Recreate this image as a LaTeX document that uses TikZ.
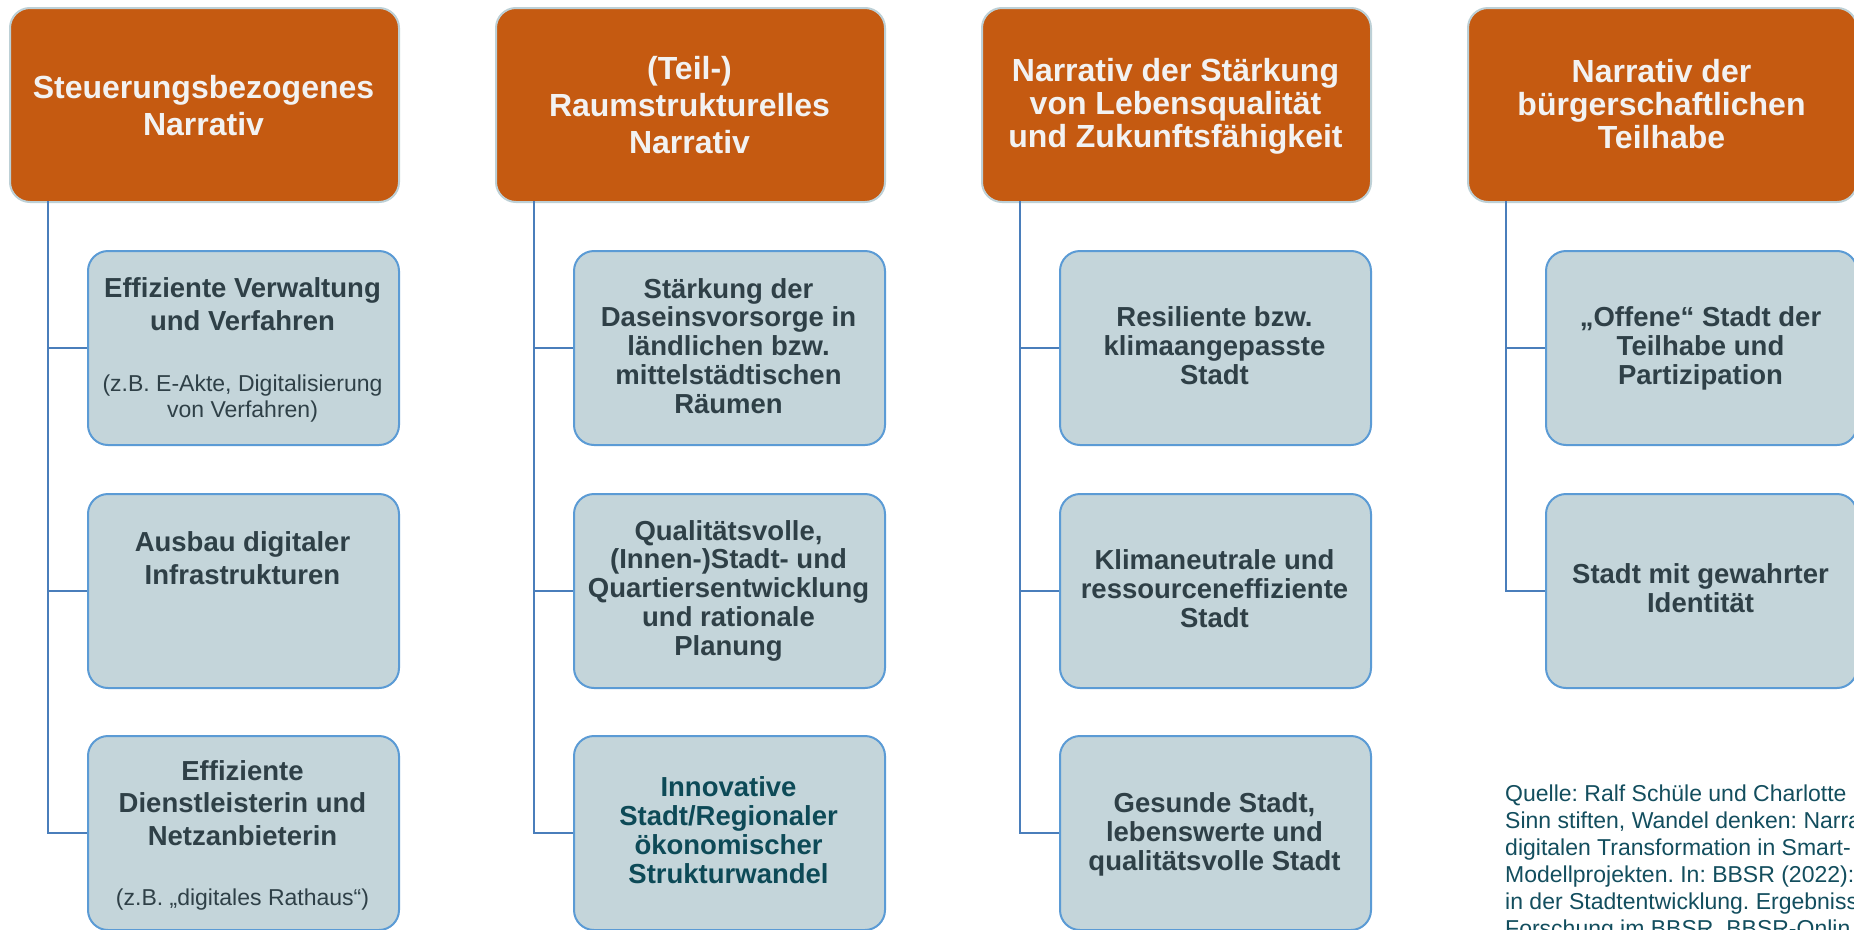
\documentclass[tikz,border=0pt]{standalone}
\usepackage{fontspec}
\setmainfont{Liberation Sans}
\frenchspacing
\definecolor{hdrfill}{HTML}{C55A11}
\definecolor{hdrline}{HTML}{BDD0D6}
\definecolor{boxfill}{HTML}{C4D5DA}
\definecolor{boxline}{HTML}{5B9BD5}
\definecolor{connline}{HTML}{4A7EBB}
\definecolor{boxtext}{HTML}{2F4047}
\definecolor{innovtext}{HTML}{0D4A57}
\definecolor{srctext}{HTML}{134E5E}
\definecolor{hdrtext}{HTML}{F2F2F2}
\tikzset{
  hdrbox/.style={draw=hdrline, line width=2pt, fill=hdrfill, rounded corners=20pt,
    minimum width=389pt, minimum height=194pt, anchor=north west, inner sep=0pt},
  childbox/.style={draw=boxline, line width=2pt, fill=boxfill, rounded corners=20pt,
    minimum width=311pt, minimum height=194pt, anchor=north west, inner sep=0pt},
  conn/.style={draw=connline, line width=2pt},
  hdrlbl/.style={anchor=base, align=center, inner sep=0pt, text=hdrtext},
  hdrA/.style={hdrlbl, font={\fontsize{32}{37}\selectfont\bfseries}},
  hdrB/.style={hdrlbl, font={\fontsize{32}{33}\selectfont\bfseries}},
  boldlbl/.style={anchor=base, align=center, inner sep=0pt, text=boxtext,
    font={\fontsize{27.5}{28.7}\selectfont\bfseries}},
  boldwide/.style={boldlbl, font={\fontsize{27.5}{32.5}\selectfont\bfseries}},
  reglbl/.style={anchor=base, align=center, inner sep=0pt, text=boxtext,
    font={\fontsize{23}{26}\selectfont}},
  srclbl/.style={anchor=base west, align=left, inner sep=0pt, text=srctext,
    font={\fontsize{23}{27}\selectfont}}
}
\begin{document}
\begin{tikzpicture}[x=1pt, y=-1pt]
\useasboundingbox (0,0) rectangle (1854,929);
\clip (0,0) rectangle (1854,929);
\fill[white] (0,0) rectangle (1854,929);

% ---------- headers ----------
\node[hdrbox] (h1) at (9,7) {};
\node[hdrbox] (h2) at (495,7) {};
\node[hdrbox] (h3) at (981,7) {};
\node[hdrbox] (h4) at (1467,7) {};
% (anchor = baseline of the last line)
\node[hdrA] (ht1) at (203.5,135) {Steuerungsbezogenes\\Narrativ};
\node[hdrA] (ht2) at (689.5,153) {(Teil-)\\Raumstrukturelles\\Narrativ};
\node[hdrB] (ht3) at (1175.5,147.5) {Narrativ der Stärkung\\von Lebensqualität\\und Zukunftsfähigkeit};
\node[hdrB] (ht4) at (1661.5,148) {Narrativ der\\bürgerschaftlichen\\Teilhabe};

% ---------- child boxes ----------
\node[childbox] (b11) at (87,250) {};
\node[childbox] (b12) at (87,493) {};
\node[childbox] (b13) at (87,735) {};
\node[childbox] (b21) at (573,250) {};
\node[childbox] (b22) at (573,493) {};
\node[childbox] (b23) at (573,735) {};
\node[childbox] (b31) at (1059,250) {};
\node[childbox] (b32) at (1059,493) {};
\node[childbox] (b33) at (1059,735) {};
\node[childbox] (b41) at (1545,250) {};
\node[childbox] (b42) at (1545,493) {};

% ---------- connectors ----------
\coordinate (v1) at (48,201);
\coordinate (v2) at (534,201);
\coordinate (v3) at (1020,201);
\coordinate (v4) at (1506,201);
\draw[conn] (v1) |- (b13.west);
\draw[conn] (v1 |- b11.west) -- (b11.west);
\draw[conn] (v1 |- b12.west) -- (b12.west);
\draw[conn] (v2) |- (b23.west);
\draw[conn] (v2 |- b21.west) -- (b21.west);
\draw[conn] (v2 |- b22.west) -- (b22.west);
\draw[conn] (v3) |- (b33.west);
\draw[conn] (v3 |- b31.west) -- (b31.west);
\draw[conn] (v3 |- b32.west) -- (b32.west);
\draw[conn] (v4) |- (b42.west);
\draw[conn] (v4 |- b41.west) -- (b41.west);

% ---------- child texts ----------
\node[boldwide] (t11) at (242.5,330) {Effiziente Verwaltung\\und Verfahren};
\node[reglbl] (t11b) at (242.5,417) {(z.B. E-Akte, Digitalisierung\\von Verfahren)};
\node[boldwide] (t12) at (242.5,584) {Ausbau digitaler\\Infrastrukturen};
\node[boldwide] (t13) at (242.5,845) {Effiziente\\Dienstleisterin und\\Netzanbieterin};
\node[reglbl] (t13b) at (242.5,905) {(z.B. „digitales Rathaus“)};

\node[boldlbl] (t21) at (728.5,413) {Stärkung der\\Daseinsvorsorge in\\ländlichen bzw.\\mittelstädtischen\\Räumen};
\node[boldlbl] (t22) at (728.5,655) {Qualitätsvolle,\\(Innen-)Stadt- und\\Quartiersentwicklung\\und rationale\\Planung};
\node[boldlbl, text=innovtext] (t23) at (728.5,883) {Innovative\\Stadt/Regionaler\\ökonomischer\\Strukturwandel};

\node[boldlbl] (t31) at (1214.5,384) {Resiliente bzw.\\klimaangepasste\\Stadt};
\node[boldlbl] (t32) at (1214.5,627) {Klimaneutrale und\\ressourceneffiziente\\Stadt};
\node[boldlbl] (t33) at (1214.5,870) {Gesunde Stadt,\\lebenswerte und\\qualitätsvolle Stadt};

\node[boldlbl] (t41) at (1700.5,384) {„Offene“ Stadt der\\Teilhabe und\\Partizipation};
\node[boldlbl] (t42) at (1700.5,612) {Stadt mit gewahrter\\Identität};

% ---------- source ----------
\node[srclbl] (src) at (1505,936) {Quelle: Ralf Schüle und Charlotte\\Sinn stiften, Wandel denken: Narra\\digitalen Transformation in Smart-\\Modellprojekten. In: BBSR (2022):\\in der Stadtentwicklung. Ergebniss\\Forschung im BBSR. BBSR-Onlin};
\end{tikzpicture}
\end{document}
